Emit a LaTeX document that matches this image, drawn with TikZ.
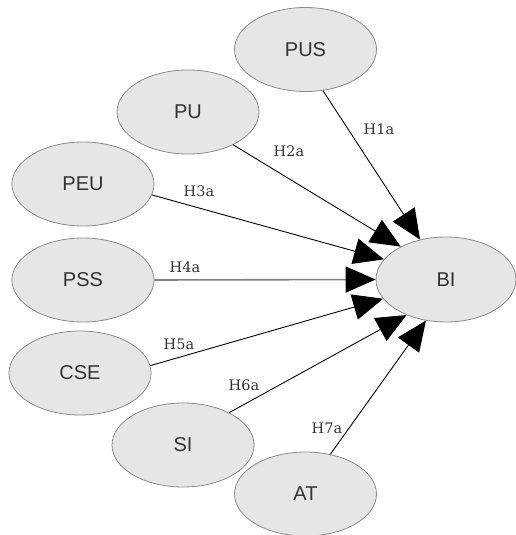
\documentclass[tikz,border=0pt]{standalone}
\usepackage{fontspec}
\setmainfont{Liberation Sans}
\newfontfamily\labfont{DejaVu Serif}
\usetikzlibrary{shapes.geometric,arrows.meta}
\definecolor{nodefill}{HTML}{E6E6E6}
\definecolor{nodeedge}{HTML}{8A8A8A}
\definecolor{txt}{HTML}{333333}
\tikzset{
  construct/.style={ellipse,draw=nodeedge,fill=nodefill,line width=0.8pt,
    minimum width=142pt,minimum height=84pt,inner sep=0pt,
    text=txt,font=\fontsize{20}{20}\selectfont},
  hyp/.style={draw=black,line width=0.9pt,-{Triangle[length=30pt,width=26pt,color=black]}},
  hlab/.style={text=txt,font=\labfont\fontsize{14.5}{15}\selectfont,inner sep=0pt}
}
\begin{document}
\begin{tikzpicture}[x=1pt,y=-1pt]
\useasboundingbox (0,0) rectangle (516,535);
\node[construct] (PUS) at (305.5,49.5) {PUS};
\node[construct] (PU)  at (188,112) {PU};
\node[construct] (PEU) at (83,184) {PEU};
\node[construct] (PSS) at (83,280) {PSS};
\node[construct] (CSE) at (80,373) {CSE};
\node[construct] (SI)  at (183,445) {SI};
\node[construct] (AT)  at (305.5,494) {AT};
\node[construct,minimum width=140pt,minimum height=85pt] (BI) at (446,279.5) {BI};

\draw[hyp] (PUS.-67) -- (BI.123.4);
\draw[hyp] (PU.-36.7) -- (BI.144.3);
\draw[hyp] (PEU.-9) -- (BI.162.3);
\draw[hyp,draw=gray,line width=1.6pt] (PSS.0) -- (BI.180);
\draw[hyp] (CSE.6.4) -- (BI.197.8);
\draw[hyp] (SI.35) -- (BI.222.3);
\draw[hyp] (AT.58) -- (BI.244.2);

\node[hlab] (h1) at (379,129) {H1a};
\node[hlab] (h2) at (289,151) {H2a};
\node[hlab] (h3) at (199,191) {H3a};
\node[hlab] (h4) at (185,267) {H4a};
\node[hlab] (h5) at (179,344) {H5a};
\node[hlab] (h6) at (244,385) {H6a};
\node[hlab] (h7) at (327,428) {H7a};
\end{tikzpicture}
\end{document}
